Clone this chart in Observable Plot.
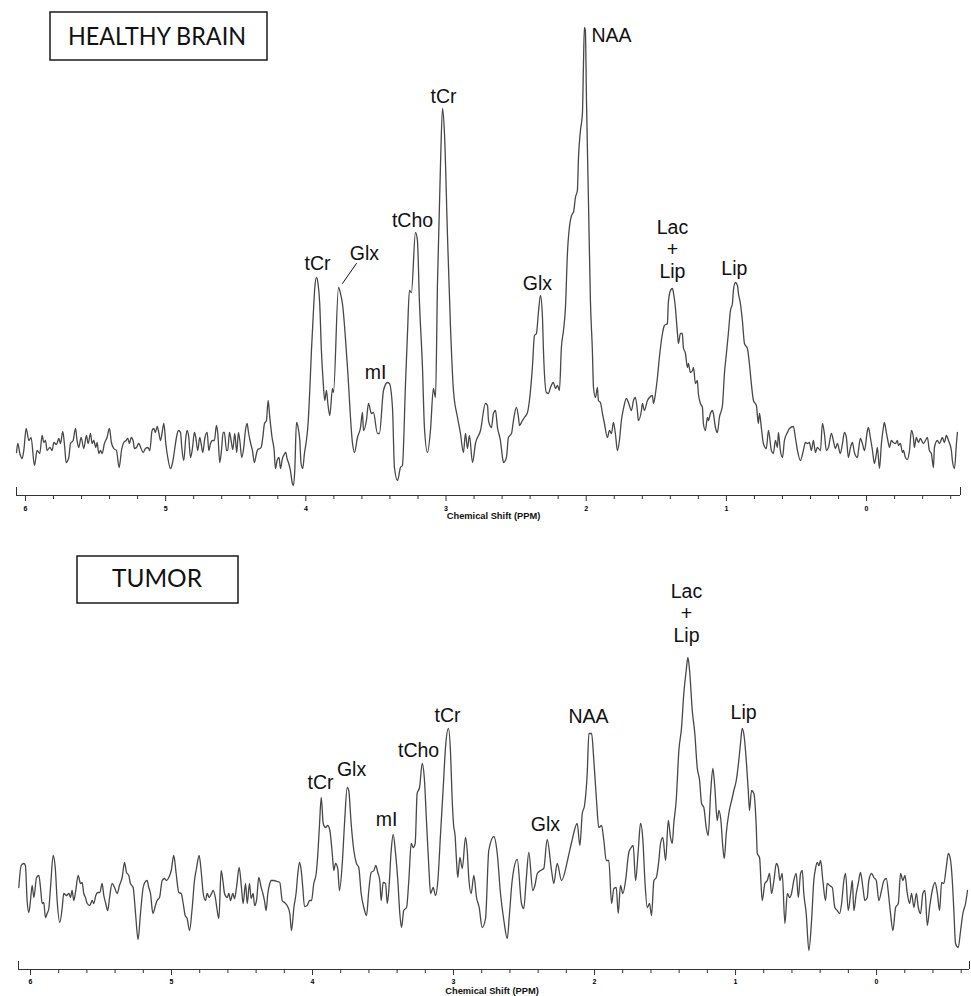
<!DOCTYPE html>
<html>
<head>
<meta charset="utf-8">
<script src="https://cdn.jsdelivr.net/npm/d3@7"></script>
<script src="https://cdn.jsdelivr.net/npm/@observablehq/plot@0.6"></script>
<style>
  html, body { margin: 0; padding: 0; background: #fff; }
  body { width: 971px; height: 996px; position: relative; overflow: hidden; }
  #top, #bottom { position: absolute; left: 0; }
  #top { top: 0; }
  #bottom { top: 530px; }
  #overlay { position: absolute; left: 0; top: 0; pointer-events: none; }
</style>
</head>
<body>
<div id="top"></div>
<div id="bottom"></div>
<svg id="overlay" width="971" height="996"></svg>
<script>
// ---------- DATA ----------
const panelTitles = ["HEALTHY BRAIN", "TUMOR"];
const axisTitle = "Chemical Shift (PPM)";
const majorTicks = [6, 5, 4, 3, 2, 1, 0];
const minorTicks = [5.8, 5.6, 5.4, 5.2, 4.8, 4.6, 4.4, 4.2, 3.8, 3.6, 3.4, 3.2, 2.8, 2.6, 2.4, 2.2,
  1.8, 1.6, 1.4, 1.2, 0.8, 0.6, 0.4, 0.2, -0.2, -0.4, -0.6];

// [chemical shift (ppm), signal (a.u.)]
const healthySpectrum = [
[6.064,43],[6.055,52],[6.040,42],[6.024,37],[6.012,45],[5.995,67],[5.976,55],[5.960,58],[5.936,30],[5.917,45],
[5.898,42],[5.881,60],[5.869,53],[5.857,55],[5.846,45],[5.826,48],[5.810,45],[5.798,53],[5.779,51],[5.762,57],
[5.750,52],[5.734,64],[5.720,48],[5.710,33],[5.691,38],[5.679,52],[5.660,55],[5.643,67],[5.632,55],[5.620,48],
[5.603,58],[5.584,47],[5.565,60],[5.553,52],[5.536,62],[5.525,52],[5.513,55],[5.498,48],[5.489,53],[5.477,42],
[5.465,45],[5.453,42],[5.437,52],[5.418,58],[5.401,67],[5.387,53],[5.370,47],[5.351,45],[5.332,28],[5.315,45],
[5.299,53],[5.282,55],[5.270,57],[5.258,52],[5.246,58],[5.232,55],[5.223,47],[5.208,48],[5.192,52],[5.175,47],
[5.161,43],[5.144,47],[5.127,48],[5.113,45],[5.097,65],[5.085,67],[5.073,63],[5.061,69],[5.049,63],[5.037,55],
[5.025,63],[5.013,72],[4.999,52],[4.985,38],[4.966,27],[4.952,32],[4.937,45],[4.923,58],[4.909,65],[4.894,63],
[4.885,48],[4.871,35],[4.856,58],[4.847,65],[4.835,58],[4.823,38],[4.809,47],[4.795,63],[4.785,58],[4.771,45],
[4.757,58],[4.747,52],[4.735,43],[4.721,57],[4.704,63],[4.692,45],[4.680,52],[4.666,55],[4.652,55],[4.638,70],
[4.628,62],[4.614,33],[4.602,45],[4.590,63],[4.581,63],[4.566,45],[4.557,45],[4.545,63],[4.533,55],[4.521,46],
[4.507,62],[4.493,43],[4.481,63],[4.471,55],[4.457,38],[4.443,48],[4.431,65],[4.419,72],[4.409,63],[4.395,53],
[4.381,45],[4.367,33],[4.352,42],[4.343,46],[4.329,47],[4.319,48],[4.307,58],[4.295,72],[4.281,75],[4.269,95],
[4.257,78],[4.241,58],[4.226,45],[4.217,27],[4.205,35],[4.191,38],[4.181,27],[4.167,37],[4.155,41],[4.143,43],
[4.134,37],[4.122,32],[4.110,25],[4.096,12],[4.088,10],[4.079,25],[4.067,73],[4.055,68],[4.043,55],[4.034,32],
[4.022,27],[4.010,42],[3.996,55],[3.984,72],[3.972,105],[3.960,145],[3.948,178],[3.936,208],[3.924,218],[3.913,212],
[3.901,192],[3.889,145],[3.877,115],[3.865,95],[3.853,105],[3.843,92],[3.829,80],[3.810,107],[3.803,103],[3.767,208],
[3.753,202],[3.739,192],[3.703,128],[3.667,52],[3.653,43],[3.632,58],[3.610,68],[3.596,83],[3.589,65],[3.568,75],
[3.553,92],[3.532,82],[3.518,83],[3.489,62],[3.475,62],[3.446,105],[3.418,113],[3.404,112],[3.382,88],[3.368,28],
[3.346,15],[3.325,28],[3.311,30],[3.289,112],[3.275,162],[3.261,205],[3.247,203],[3.218,263],[3.204,255],[3.190,195],
[3.168,128],[3.154,68],[3.132,43],[3.111,65],[3.090,107],[3.075,98],[3.061,212],[3.040,328],[3.025,387],[3.011,362],
[2.990,262],[2.968,168],[2.947,105],[2.918,78],[2.897,62],[2.876,43],[2.861,62],[2.847,47],[2.833,60],[2.811,33],
[2.790,52],[2.754,65],[2.719,92],[2.704,90],[2.697,75],[2.676,68],[2.662,82],[2.647,85],[2.633,68],[2.612,55],
[2.597,38],[2.590,33],[2.569,38],[2.555,58],[2.533,62],[2.519,75],[2.498,88],[2.483,78],[2.476,70],[2.455,75],
[2.441,78],[2.419,83],[2.405,95],[2.384,128],[2.369,160],[2.355,162],[2.341,183],[2.326,200],[2.312,178],[2.305,145],
[2.284,103],[2.269,102],[2.255,108],[2.234,113],[2.219,107],[2.205,110],[2.191,105],[2.177,148],[2.162,165],[2.148,188],
[2.134,242],[2.120,268],[2.098,282],[2.091,283],[2.077,298],[2.063,305],[2.055,338],[2.041,365],[2.027,382],[2.020,428],
[2.013,468],[2.006,465],[1.998,395],[1.984,295],[1.970,195],[1.956,145],[1.948,108],[1.934,98],[1.920,108],[1.913,95],
[1.899,93],[1.884,82],[1.870,72],[1.849,58],[1.834,65],[1.820,62],[1.806,73],[1.792,62],[1.777,45],[1.763,55],
[1.749,75],[1.734,87],[1.713,97],[1.699,93],[1.677,85],[1.663,95],[1.649,98],[1.635,85],[1.628,75],[1.606,85],
[1.599,92],[1.585,85],[1.563,95],[1.549,98],[1.528,100],[1.520,92],[1.506,102],[1.492,118],[1.478,138],[1.456,162],
[1.442,170],[1.421,172],[1.414,193],[1.399,205],[1.385,207],[1.378,203],[1.364,188],[1.349,162],[1.342,152],[1.328,162],
[1.314,162],[1.307,148],[1.292,142],[1.278,128],[1.271,132],[1.257,123],[1.242,125],[1.235,128],[1.221,112],[1.207,115],
[1.200,102],[1.185,92],[1.171,88],[1.164,72],[1.150,65],[1.135,78],[1.128,75],[1.114,82],[1.100,85],[1.093,82],
[1.078,68],[1.064,63],[1.050,78],[1.028,90],[1.014,122],[1.000,142],[0.986,162],[0.971,185],[0.957,192],[0.950,205],
[0.936,213],[0.921,210],[0.914,202],[0.900,192],[0.886,175],[0.871,152],[0.850,147],[0.836,132],[0.822,112],[0.807,95],
[0.786,90],[0.772,72],[0.764,82],[0.750,67],[0.736,52],[0.715,47],[0.700,65],[0.679,45],[0.665,42],[0.650,55],
[0.636,48],[0.629,63],[0.615,45],[0.600,38],[0.586,55],[0.565,63],[0.550,67],[0.522,69],[0.508,58],[0.493,45],
[0.472,35],[0.451,45],[0.436,53],[0.422,52],[0.408,53],[0.394,45],[0.379,55],[0.365,43],[0.351,48],[0.329,45],
[0.315,72],[0.301,62],[0.287,45],[0.272,48],[0.251,62],[0.237,55],[0.222,47],[0.208,52],[0.187,42],[0.172,52],
[0.158,63],[0.144,58],[0.130,38],[0.115,48],[0.101,53],[0.087,43],[0.065,38],[0.058,45],[0.044,57],[0.030,52],
[0.015,45],[-0.006,65],[-0.013,68],[-0.027,58],[-0.042,45],[-0.056,32],[-0.070,42],[-0.077,48],[-0.092,27],[-0.106,52],
[-0.120,68],[-0.127,73],[-0.141,63],[-0.156,52],[-0.163,48],[-0.177,55],[-0.191,53],[-0.206,52],[-0.220,55],[-0.227,50],
[-0.241,52],[-0.256,43],[-0.263,45],[-0.277,38],[-0.291,36],[-0.306,45],[-0.320,65],[-0.334,58],[-0.341,48],[-0.355,58],
[-0.370,53],[-0.384,57],[-0.405,52],[-0.420,55],[-0.434,58],[-0.448,45],[-0.462,42],[-0.477,28],[-0.484,48],[-0.505,55],
[-0.520,52],[-0.541,58],[-0.555,53],[-0.569,60],[-0.584,55],[-0.605,45],[-0.612,35],[-0.627,27],[-0.641,52],[-0.648,63]
];

const tumorSpectrum = [
[6.083,82],[6.066,104],[6.047,106],[6.036,104],[6.024,69],[6.012,57],[6.000,69],[5.988,84],[5.976,72],[5.957,92],
[5.941,94],[5.929,82],[5.917,66],[5.906,67],[5.894,52],[5.882,56],[5.870,61],[5.858,82],[5.839,114],[5.823,99],
[5.811,69],[5.792,47],[5.775,62],[5.764,76],[5.745,74],[5.728,76],[5.716,72],[5.705,79],[5.693,69],[5.681,77],
[5.662,94],[5.645,86],[5.634,87],[5.622,76],[5.610,72],[5.598,66],[5.579,64],[5.563,69],[5.551,66],[5.537,74],
[5.522,77],[5.508,77],[5.492,86],[5.480,74],[5.468,67],[5.452,59],[5.440,71],[5.421,86],[5.404,82],[5.385,76],
[5.369,84],[5.350,92],[5.333,107],[5.319,97],[5.303,94],[5.291,86],[5.272,82],[5.255,56],[5.237,30],[5.220,56],
[5.201,82],[5.189,87],[5.173,89],[5.161,82],[5.149,76],[5.132,56],[5.114,64],[5.102,69],[5.085,72],[5.066,89],
[5.050,91],[5.036,89],[5.019,92],[5.002,99],[4.984,114],[4.967,96],[4.948,77],[4.931,76],[4.917,66],[4.903,54],
[4.889,51],[4.872,39],[4.853,62],[4.837,89],[4.823,101],[4.804,114],[4.790,99],[4.775,76],[4.759,69],[4.747,76],
[4.733,72],[4.716,76],[4.705,79],[4.688,71],[4.676,59],[4.664,51],[4.648,99],[4.634,87],[4.624,76],[4.605,72],
[4.593,76],[4.582,69],[4.565,76],[4.553,71],[4.539,82],[4.520,102],[4.504,82],[4.492,66],[4.475,86],[4.463,66],
[4.447,86],[4.435,71],[4.421,76],[4.411,64],[4.397,69],[4.381,92],[4.364,82],[4.352,76],[4.341,69],[4.329,59],
[4.317,76],[4.303,86],[4.293,89],[4.274,89],[4.251,88],[4.232,87],[4.215,69],[4.199,67],[4.180,64],[4.161,56],
[4.149,39],[4.132,62],[4.116,77],[4.104,96],[4.092,107],[4.080,99],[4.069,82],[4.057,63],[4.038,64],[4.021,69],
[4.007,69],[3.991,86],[3.974,96],[3.962,116],[3.950,146],[3.938,172],[3.924,146],[3.908,142],[3.892,144],[3.877,139],
[3.860,116],[3.849,99],[3.837,106],[3.821,101],[3.809,79],[3.789,106],[3.773,146],[3.754,182],[3.743,179],[3.726,146],
[3.707,119],[3.688,106],[3.672,102],[3.655,76],[3.636,62],[3.617,54],[3.601,79],[3.584,97],[3.565,99],[3.551,104],
[3.537,97],[3.523,89],[3.513,69],[3.499,87],[3.482,86],[3.470,66],[3.459,79],[3.442,119],[3.428,135],[3.411,116],
[3.395,89],[3.381,56],[3.369,42],[3.353,59],[3.333,62],[3.317,89],[3.300,126],[3.286,122],[3.272,126],[3.258,176],
[3.241,182],[3.222,206],[3.206,189],[3.192,149],[3.175,102],[3.163,76],[3.144,82],[3.128,74],[3.111,89],[3.092,136],
[3.073,182],[3.057,222],[3.036,241],[3.021,216],[3.011,175],[3.000,145],[2.989,134],[2.979,109],[2.970,92],[2.955,112],
[2.938,101],[2.915,132],[2.903,119],[2.892,92],[2.875,76],[2.856,94],[2.837,72],[2.818,62],[2.797,42],[2.773,51],
[2.750,119],[2.714,133],[2.690,116],[2.667,76],[2.643,49],[2.619,31],[2.603,56],[2.584,89],[2.548,110],[2.518,66],
[2.502,61],[2.485,89],[2.466,117],[2.438,79],[2.423,84],[2.406,96],[2.383,99],[2.360,101],[2.336,130],[2.305,99],
[2.289,86],[2.265,106],[2.234,89],[2.187,112],[2.163,127],[2.123,146],[2.104,124],[2.087,156],[2.071,164],[2.052,196],
[2.040,236],[2.021,236],[2.005,209],[1.986,169],[1.970,142],[1.950,144],[1.934,129],[1.917,109],[1.899,109],[1.879,66],
[1.863,81],[1.846,82],[1.832,56],[1.816,84],[1.799,76],[1.780,89],[1.757,117],[1.740,122],[1.726,124],[1.709,89],
[1.690,119],[1.674,146],[1.657,129],[1.643,89],[1.626,62],[1.610,66],[1.596,54],[1.579,89],[1.562,92],[1.544,109],
[1.532,126],[1.516,132],[1.496,109],[1.477,149],[1.461,132],[1.449,126],[1.438,146],[1.421,169],[1.402,219],[1.383,242],
[1.367,276],[1.350,299],[1.338,312],[1.326,299],[1.307,259],[1.289,236],[1.272,202],[1.255,189],[1.241,166],[1.225,162],
[1.208,142],[1.194,134],[1.177,176],[1.161,201],[1.147,182],[1.130,149],[1.118,159],[1.104,149],[1.090,122],[1.080,111],
[1.066,136],[1.048,156],[1.028,169],[1.012,179],[0.995,189],[0.977,209],[0.965,226],[0.953,241],[0.938,232],[0.924,209],
[0.910,179],[0.901,159],[0.887,179],[0.870,176],[0.853,142],[0.846,116],[0.830,112],[0.811,69],[0.792,86],[0.775,89],
[0.759,96],[0.745,76],[0.728,89],[0.711,106],[0.697,102],[0.686,89],[0.669,96],[0.650,46],[0.633,76],[0.617,72],
[0.603,76],[0.587,89],[0.570,96],[0.555,72],[0.539,96],[0.527,99],[0.516,76],[0.499,56],[0.480,19],[0.461,49],
[0.445,89],[0.433,101],[0.421,107],[0.409,104],[0.397,109],[0.381,89],[0.362,69],[0.350,86],[0.333,84],[0.314,82],
[0.296,62],[0.279,59],[0.262,56],[0.248,66],[0.232,89],[0.220,96],[0.201,59],[0.184,76],[0.172,89],[0.161,59],
[0.144,76],[0.130,86],[0.114,97],[0.097,82],[0.083,69],[0.066,72],[0.055,89],[0.035,96],[0.019,92],[0.002,89],
[-0.016,69],[-0.035,79],[-0.052,89],[-0.069,91],[-0.087,72],[-0.099,56],[-0.116,39],[-0.135,62],[-0.154,66],[-0.170,96],
[-0.187,89],[-0.201,94],[-0.218,76],[-0.234,66],[-0.248,76],[-0.265,62],[-0.282,76],[-0.296,62],[-0.312,56],[-0.328,76],
[-0.343,79],[-0.360,44],[-0.376,62],[-0.395,79],[-0.414,87],[-0.431,76],[-0.447,59],[-0.461,87],[-0.477,86],[-0.494,102],
[-0.509,116],[-0.525,109],[-0.537,89],[-0.548,59],[-0.560,26],[-0.579,22],[-0.596,39],[-0.612,56],[-0.631,66],[-0.645,79]
];

// peak annotations: name, shift (ppm), height of label (a.u.)
const healthyLabels = [
  {name: "tCr", ppm: 3.917, at: 233},
  {name: "Glx", ppm: 3.582, at: 243},
  {name: "mI", ppm: 3.503, at: 124},
  {name: "tCho", ppm: 3.239, at: 276},
  {name: "tCr", ppm: 3.018, at: 400},
  {name: "Glx", ppm: 2.348, at: 213},
  {name: "NAA", ppm: 1.820, at: 461},
  {name: "Lac\n+\nLip", ppm: 1.385, at: 247},
  {name: "Lip", ppm: 0.943, at: 228}
];
const healthyGlxLeader = [{ppm: 3.639, at: 232}, {ppm: 3.739, at: 212}];
const tumorLabels = [
  {name: "tCr", ppm: 3.943, at: 188},
  {name: "Glx", ppm: 3.723, at: 201},
  {name: "mI", ppm: 3.475, at: 151},
  {name: "tCho", ppm: 3.248, at: 220},
  {name: "tCr", ppm: 3.043, at: 255},
  {name: "Glx", ppm: 2.348, at: 146},
  {name: "NAA", ppm: 2.043, at: 254},
  {name: "Lac\n+\nLip", ppm: 1.348, at: 357},
  {name: "Lip", ppm: 0.943, at: 258}
];

// ---------- DRAW ----------
const toRows = arr => arr.map(([ppm, v]) => ({ppm, v}));
const LABEL_FONT = "'Liberation Sans', Arial, Helvetica, sans-serif";

function spectrumPlot({rows, labels, leader, xDomain, yMax, height, marginLeft, marginRight, marginBottom, tickPad, titleDx, titleDy}) {
  const marks = [
    Plot.line(rows, {x: "ppm", y: "v", stroke: "#474747", strokeWidth: 1.3, curve: "monotone-x", strokeLinejoin: "round"}),
    Plot.ruleY([0], {stroke: "#333", strokeWidth: 1}),
    Plot.ruleX(xDomain, {y1: 0, y2: 8, stroke: "#333", strokeWidth: 1}),
    Plot.axisX({ticks: majorTicks, tickSize: 6, tickPadding: tickPad, tickFormat: d => String(d),
      fontSize: 7, fontWeight: "bold", fontFamily: LABEL_FONT, stroke: "#333", label: null}),
    Plot.axisX({ticks: minorTicks, tickSize: 4, tickFormat: () => "", stroke: "#333", label: null}),
    Plot.text([axisTitle], {frameAnchor: "bottom", dx: titleDx, dy: titleDy, fontSize: 9.3, fontWeight: "bold",
      fontFamily: LABEL_FONT, fill: "#111"}),
    Plot.text(labels, {x: "ppm", y: "at", text: "name", fontSize: 19.5, lineHeight: 1.13,
      fontFamily: LABEL_FONT, fill: "#111"})
  ];
  if (leader) marks.push(Plot.line(leader, {x: "ppm", y: "at", stroke: "#111", strokeWidth: 1}));
  return Plot.plot({
    width: 971, height,
    marginLeft, marginRight, marginTop: 0, marginBottom,
    x: {domain: xDomain, axis: null},
    y: {domain: [0, yMax], axis: null},
    style: {background: "transparent", overflow: "visible", fontFamily: LABEL_FONT},
    marks
  });
}

document.getElementById("top").appendChild(spectrumPlot({
  rows: toRows(healthySpectrum), labels: healthyLabels, leader: healthyGlxLeader,
  xDomain: [6.064, -0.670], yMax: 495, height: 530,
  marginLeft: 16, marginRight: 11, marginBottom: 35, tickPad: 5, titleDx: 5, titleDy: 23
}));

document.getElementById("bottom").appendChild(spectrumPlot({
  rows: toRows(tumorSpectrum), labels: tumorLabels, leader: null,
  xDomain: [6.085, -0.659], yMax: 439, height: 466,
  marginLeft: 18, marginRight: 2, marginBottom: 27, tickPad: 4, titleDx: -2, titleDy: 24
}));

// title boxes
const overlay = d3.select("#overlay");
const boxes = [
  {title: panelTitles[0], x: 50, y: 12, w: 217, h: 48, tx: 68, baseline: 45, tw: 178, fs: 25.5},
  {title: panelTitles[1], x: 77, y: 556, w: 161, h: 47, tx: 112, baseline: 586.7, tw: 90, fs: 25.5}
];
boxes.forEach(b => {
  overlay.append("rect").attr("x", b.x).attr("y", b.y).attr("width", b.w).attr("height", b.h)
    .attr("fill", "#fff").attr("stroke", "#1a1a1a").attr("stroke-width", 1.5);
  overlay.append("text").attr("x", b.tx).attr("y", b.baseline)
    .attr("font-family", "Lato, 'Open Sans', sans-serif").attr("font-size", b.fs)
    .attr("textLength", b.tw).attr("lengthAdjust", "spacingAndGlyphs")
    .attr("fill", "#111").text(b.title);
});
</script>
</body>
</html>
